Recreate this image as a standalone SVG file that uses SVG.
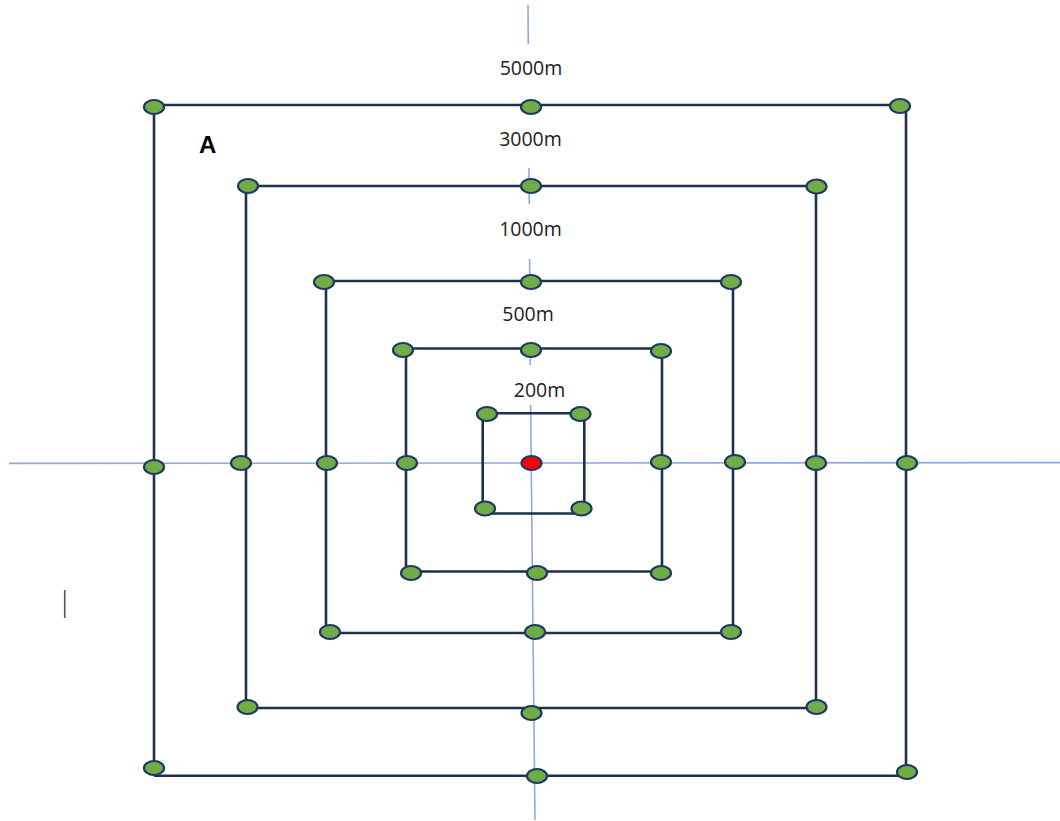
<svg xmlns="http://www.w3.org/2000/svg" width="1060" height="821" viewBox="0 0 1060 821">
<style>
.ax{stroke:#8EAADB;stroke-width:1.6;fill:none}
.sq{stroke:#1F2F4F;stroke-width:2.6;fill:none}
.n{fill:#70AD47;stroke:#1F3864;stroke-width:2.2}
.c{fill:#FF0000;stroke:#1F3864;stroke-width:2.2}
.lbl{font-family:"Open Sans","Liberation Sans",sans-serif;font-size:19.5px;fill:#222;text-anchor:middle}
.a{font-family:"Liberation Sans",Arial,sans-serif;font-size:24px;font-weight:bold;fill:#000}
</style>
<rect width="1060" height="821" fill="#fff"/>
<g id="axes">
<line class="ax" x1="9" y1="463.4" x2="1060" y2="462.6"/>
<line class="ax" x1="528" y1="5" x2="528.3" y2="44"/>
<line class="ax" x1="529" y1="168" x2="529.3" y2="204"/>
<line class="ax" x1="529.6" y1="259" x2="529.8" y2="286"/>
<line class="ax" x1="530.2" y1="352" x2="530.3" y2="365"/>
<line class="ax" x1="530.6" y1="405" x2="535" y2="820"/>
</g>
<g id="connectors">
<path class="sq" d="M154,105 H900 M906,106 V776 M154,775.7 H906 M154,107 V776"/>
<path class="sq" d="M248,186 H816 M816,186 V708 M246,708 H816 M246,186 V708"/>
<path class="sq" d="M324,281 H731 M733,282 V633 M326,633 H733 M326,282 V633"/>
<path class="sq" d="M403,348.5 H661 M662,351 V572 M406,571.5 H662 M406,350 V572"/>
<path class="sq" d="M487,413.3 H581 M584.3,413.3 V513.5 M482.7,513.5 H584.3 M482.7,413.3 V513.5"/>
</g>
<g id="labels">
<text class="lbl" x="531" y="75">5000m</text>
<text class="lbl" x="530.5" y="146">3000m</text>
<text class="lbl" x="530.5" y="236">1000m</text>
<text class="lbl" x="528" y="321">500m</text>
<text class="lbl" x="539.5" y="397">200m</text>
<text class="a" x="199" y="153">A</text>
<line x1="64.7" y1="590" x2="64.7" y2="618" stroke="#555" stroke-width="1.6"/>
</g>
<g id="n5000-tl"><ellipse class="n" cx="154" cy="107" rx="10" ry="7"/></g>
<g id="n5000-tm"><ellipse class="n" cx="531" cy="107" rx="10" ry="7"/></g>
<g id="n5000-tr"><ellipse class="n" cx="900" cy="106" rx="10" ry="7"/></g>
<g id="n5000-ml"><ellipse class="n" cx="154" cy="467" rx="10" ry="7"/></g>
<g id="n5000-mr"><ellipse class="n" cx="907" cy="463" rx="10" ry="7"/></g>
<g id="n5000-bl"><ellipse class="n" cx="154" cy="768" rx="10" ry="7"/></g>
<g id="n5000-bm"><ellipse class="n" cx="537" cy="776" rx="10" ry="7"/></g>
<g id="n5000-br"><ellipse class="n" cx="907" cy="772" rx="10" ry="7"/></g>
<g id="n3000-tl"><ellipse class="n" cx="248" cy="186" rx="10" ry="7"/></g>
<g id="n3000-tm"><ellipse class="n" cx="531" cy="186" rx="10" ry="7"/></g>
<g id="n3000-tr"><ellipse class="n" cx="816.5" cy="186.5" rx="10" ry="7"/></g>
<g id="n3000-ml"><ellipse class="n" cx="241" cy="463" rx="10" ry="7"/></g>
<g id="n3000-mr"><ellipse class="n" cx="816" cy="463" rx="10" ry="7"/></g>
<g id="n3000-bl"><ellipse class="n" cx="247.5" cy="707" rx="10" ry="7"/></g>
<g id="n3000-bm"><ellipse class="n" cx="531.5" cy="713" rx="10" ry="7"/></g>
<g id="n3000-br"><ellipse class="n" cx="816.5" cy="707" rx="10" ry="7"/></g>
<g id="n1000-tl"><ellipse class="n" cx="324" cy="282" rx="10" ry="7"/></g>
<g id="n1000-tm"><ellipse class="n" cx="531" cy="282" rx="10" ry="7"/></g>
<g id="n1000-tr"><ellipse class="n" cx="731" cy="282" rx="10" ry="7"/></g>
<g id="n1000-ml"><ellipse class="n" cx="327" cy="463" rx="10" ry="7"/></g>
<g id="n1000-mr"><ellipse class="n" cx="735" cy="462" rx="10" ry="7"/></g>
<g id="n1000-bl"><ellipse class="n" cx="330" cy="632" rx="10" ry="7"/></g>
<g id="n1000-bm"><ellipse class="n" cx="535" cy="632" rx="10" ry="7"/></g>
<g id="n1000-br"><ellipse class="n" cx="731" cy="632" rx="10" ry="7"/></g>
<g id="n500-tl"><ellipse class="n" cx="403" cy="350" rx="10" ry="7"/></g>
<g id="n500-tm"><ellipse class="n" cx="531" cy="350" rx="10" ry="7"/></g>
<g id="n500-tr"><ellipse class="n" cx="661" cy="351" rx="10" ry="7"/></g>
<g id="n500-ml"><ellipse class="n" cx="407" cy="463" rx="10" ry="7"/></g>
<g id="n500-mr"><ellipse class="n" cx="661" cy="462" rx="10" ry="7"/></g>
<g id="n500-bl"><ellipse class="n" cx="411" cy="573" rx="10" ry="7"/></g>
<g id="n500-bm"><ellipse class="n" cx="537" cy="573" rx="10" ry="7"/></g>
<g id="n500-br"><ellipse class="n" cx="661" cy="573" rx="10" ry="7"/></g>
<g id="n200-tl"><ellipse class="n" cx="487" cy="414" rx="10" ry="7"/></g>
<g id="n200-tr"><ellipse class="n" cx="580.5" cy="414" rx="10" ry="7"/></g>
<g id="n200-bl"><ellipse class="n" cx="485" cy="508.5" rx="10" ry="7"/></g>
<g id="n200-br"><ellipse class="n" cx="581.5" cy="508.5" rx="10" ry="7"/></g>
<g id="center"><ellipse class="c" cx="531.5" cy="463" rx="10" ry="7"/></g>
</svg>
